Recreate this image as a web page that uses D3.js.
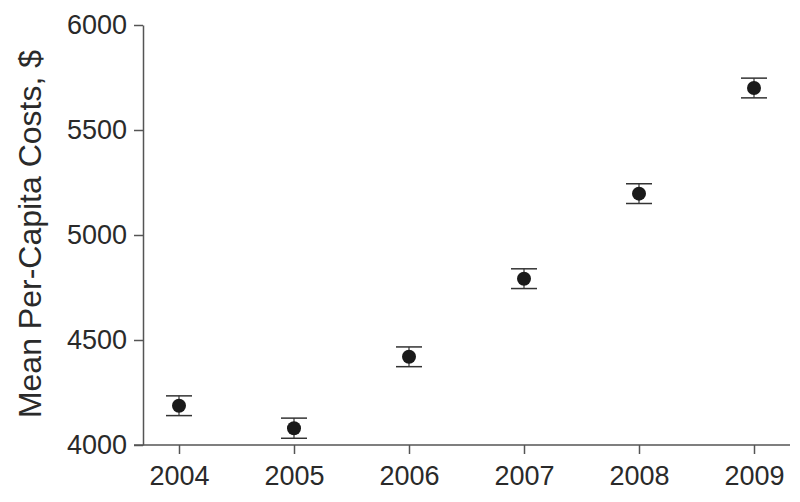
<!DOCTYPE html>
<html>
<head>
<meta charset="utf-8">
<script src="https://cdn.jsdelivr.net/npm/d3@7"></script>
<style>
  html, body { margin: 0; padding: 0; background: #fff; }
  svg text { font-family: "Liberation Sans", Arial, sans-serif; fill: #2a2a2a; }
</style>
</head>
<body>
<svg id="chart"></svg>
<script>
// Mean per-capita costs by year, with error bars
const years = [2004, 2005, 2006, 2007, 2008, 2009];
const meanCosts = [4187, 4080, 4420, 4792, 5197, 5700];
const errors = [47, 48, 47, 47, 47, 47];
const yTicks = [4000, 4500, 5000, 5500, 6000];

const W = 800, H = 502;
const PLOT = { left: 143, top: 25, bottom: 445 };
const AXIS_COLOR = '#555';

const svg = d3.select('#chart')
  .attr('width', W)
  .attr('height', H);

const xScale = d3.scaleLinear().domain([2004, 2009]).range([179, 754]);
const yScale = d3.scaleLinear().domain([4000, 6000]).range([PLOT.bottom, PLOT.top]);

// y axis
const yAxisG = svg.append('g')
  .attr('transform', `translate(${PLOT.left},0)`)
  .call(d3.axisLeft(yScale).tickValues(yTicks).tickFormat(d3.format('d'))
    .tickSize(9).tickSizeOuter(0).tickPadding(7));

// x axis
const xAxisG = svg.append('g')
  .attr('transform', `translate(0,${PLOT.bottom})`)
  .call(d3.axisBottom(xScale).tickValues(years).tickFormat(d3.format('d'))
    .tickSize(9).tickSizeOuter(0).tickPadding(12));

// x axis line runs past the y axis on the left and to the right edge
xAxisG.select('.domain').remove();
xAxisG.append('line')
  .attr('x1', PLOT.left - 9)
  .attr('x2', 790)
  .attr('stroke', AXIS_COLOR)
  .attr('stroke-width', 1.5);

[yAxisG, xAxisG].forEach(g => {
  g.selectAll('.domain').attr('stroke', AXIS_COLOR).attr('stroke-width', 1.5);
  g.selectAll('.tick line').attr('stroke', AXIS_COLOR).attr('stroke-width', 1.5);
  g.selectAll('.tick text')
    .attr('font-size', 27)
    .attr('font-family', '"Liberation Sans", Arial, sans-serif')
    .attr('fill', '#2a2a2a');
});

// y axis label
svg.append('text')
  .attr('transform', 'rotate(-90)')
  .attr('x', -234)
  .attr('y', 41)
  .attr('text-anchor', 'middle')
  .attr('font-size', 32)
  .text('Mean Per-Capita Costs, $');

// points + error bars
const data = years.map((yr, i) => ({ year: yr, mean: meanCosts[i], err: errors[i] }));
const capHalf = 13;

const pts = svg.append('g').selectAll('g.pt')
  .data(data)
  .join('g')
  .attr('class', 'pt');

pts.append('line')
  .attr('x1', d => xScale(d.year)).attr('x2', d => xScale(d.year))
  .attr('y1', d => yScale(d.mean + d.err)).attr('y2', d => yScale(d.mean - d.err))
  .attr('stroke', '#333').attr('stroke-width', 1.2);

pts.append('line')
  .attr('x1', d => xScale(d.year) - capHalf).attr('x2', d => xScale(d.year) + capHalf)
  .attr('y1', d => yScale(d.mean + d.err)).attr('y2', d => yScale(d.mean + d.err))
  .attr('stroke', '#333').attr('stroke-width', 1.5);

pts.append('line')
  .attr('x1', d => xScale(d.year) - capHalf).attr('x2', d => xScale(d.year) + capHalf)
  .attr('y1', d => yScale(d.mean - d.err)).attr('y2', d => yScale(d.mean - d.err))
  .attr('stroke', '#333').attr('stroke-width', 1.5);

pts.append('circle')
  .attr('cx', d => xScale(d.year))
  .attr('cy', d => yScale(d.mean))
  .attr('r', 7)
  .attr('fill', '#1a1a1a');
</script>
</body>
</html>
